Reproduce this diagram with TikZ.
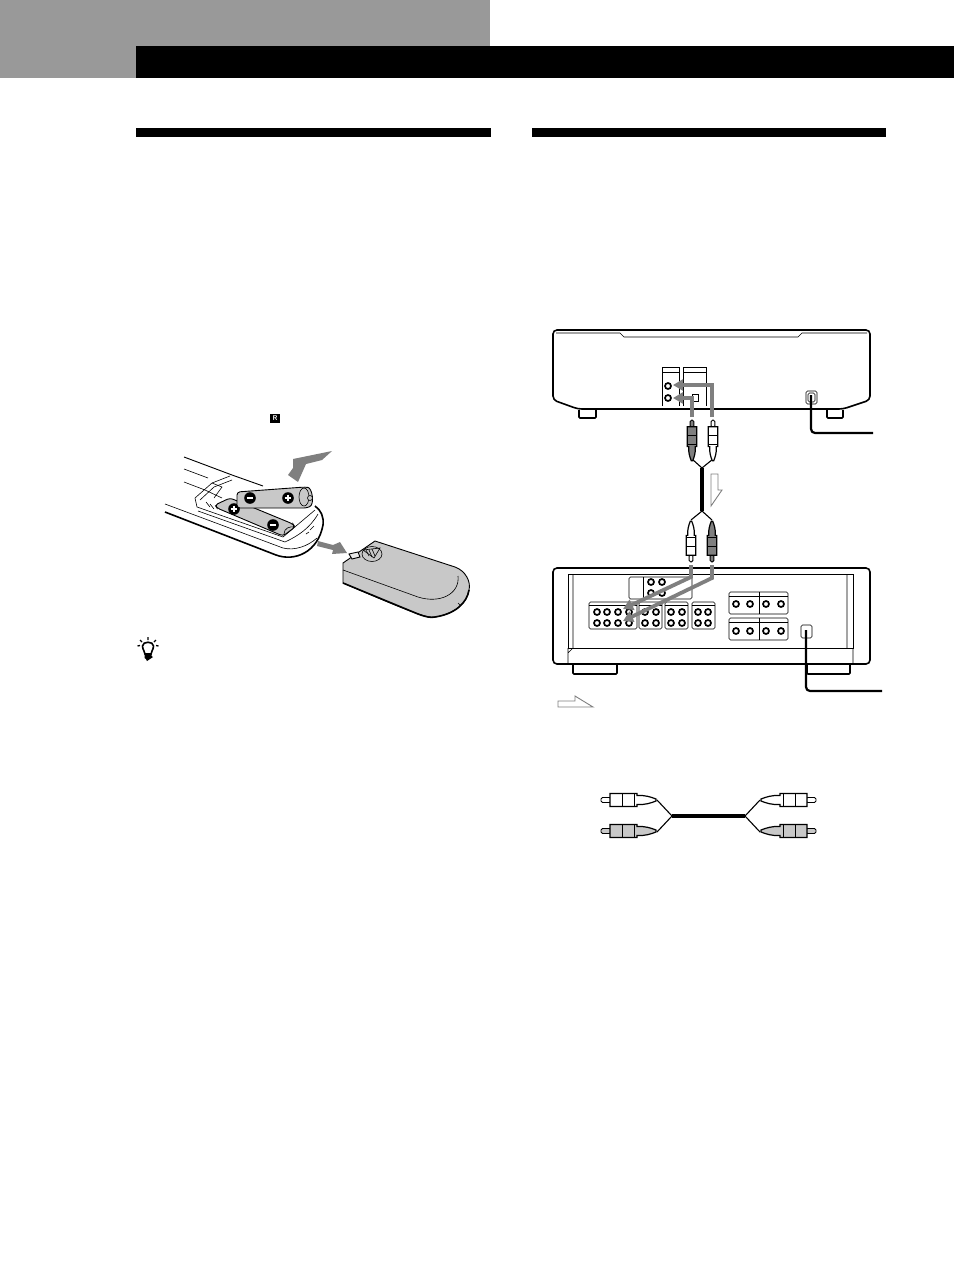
\documentclass[tikz,border=0pt]{standalone}
\usepackage{tikz}
\usetikzlibrary{positioning, arrows.meta}
\definecolor{headgray}{HTML}{999999}
\definecolor{wiregray}{HTML}{7F7F7F}
\definecolor{partgray}{HTML}{C8C8C8}
\tikzset{
    thinline/.style={line width=0.6pt, draw=black},
    midline/.style={line width=0.9pt, draw=black},
    heavyline/.style={line width=1.6pt, draw=black},
    cord/.style={line width=2.2pt, draw=black, rounded corners=4pt},
    wire/.style={line width=3.8pt, wiregray, -{Triangle[length=10pt, width=11pt]}},
    hollow/.style={line width=0.9pt, wiregray, fill=white, line join=miter},
    solidarrow/.style={fill=wiregray, draw=none},
    jackpanel/.style={thinline, fill=white, rounded corners=1.5pt},
    jack/.style={line width=1.7pt, draw=black, fill=white},
    pics/rcaplug/.style={code={
        \draw[pic actions, midline, rounded corners=1.5pt] (0,-2.5) -- (10,-2.5) -- (10,2.5) -- (0,2.5) -- cycle;
        \draw[pic actions, line width=1.2pt, draw=black] (9,-6.5) -- (36,-6.5) -- (36,-4.5) .. controls (44,-5) and (50,-3) .. (55,-1) -- (55,1) .. controls (50,3) and (44,5) .. (36,4.5) -- (36,6.5) -- (9,6.5) -- cycle;
        \draw[midline] (21,-6.5) -- (21,6.5) (33,-6.5) -- (33,6.5);
    }}
}
\newcommand{\batterysign}[3]{%
    \fill[black] (#1,#2) circle (5.8);
    \draw[white, line width=1.5pt] (#1-3.3,#2) -- (#1+3.3,#2);
    \ifnum#3=1 \draw[white, line width=1.5pt] (#1,#2-3.3) -- (#1,#2+3.3);\fi
}
\begin{document}
\begin{tikzpicture}[x=1pt, y=-1pt]
    \useasboundingbox (0,0) rectangle (954,1274);

    \fill[headgray] (0,0) rectangle (490,78);
    \fill[black] (136,46) rectangle (954,78);
    \fill[black] (136,128) rectangle (490.5,137);
    \fill[black] (532,128) rectangle (886,137);

    \node[fill=black, text=white, inner sep=0pt, minimum width=9.5pt, minimum height=9pt, font=\sffamily\bfseries\fontsize{7}{7}\selectfont] (remotemark) at (275,418.5) {R};

    \draw[midline] (184,457) -- (232,475) -- (263,486);
    \draw[thinline] (184,469) -- (208,478);
    \draw[thinline] (184,482) -- (205,490);
    \draw[thinline] (165,504) -- (283,548) .. controls (295,551) and (308,546) .. (317,538);
    \draw[heavyline] (165,512) -- (276,555) .. controls (295,562) and (318,552) .. (323,525) .. controls (324,517) and (321,510) .. (315,506);
    \draw[thinline] (197,507) -- (283,537) -- (315,510);
    \draw[thinline] (198,511) -- (285,542) .. controls (298,536) and (310,528) .. (318,514);
    \draw[thinline] (195,498) -- (197,507) (195,498) -- (212,483) -- (230,476);
    \draw[thinline] (200,500) -- (214,487) -- (232,480);
    \draw[thinline] (205,490) -- (222,498) (212,483) -- (222,487) -- (214,498);
    \draw[thinline] (206,502) -- (210,507) (210,504) -- (214,509);
    \draw[thinline] (310,530) -- (314,526) (306,534) -- (309,532);

    \draw[midline, fill=partgray, rounded corners=3pt] (217,508) -- (215,505) -- (230,498) -- (293,524) -- (295,527) -- (283,536) -- cycle;
    \draw[thinline] (284,534) .. controls (284,528) and (290,526) .. (295,527);
    \batterysign{234}{509}{1}
    \batterysign{273}{525}{0}

    \draw[midline, fill=partgray, rounded corners=3pt] (237,492) -- (305,487) .. controls (312,488) and (315,504) .. (307,508) -- (237,508) -- cycle;
    \draw[thinline, fill=partgray] (304,497) ellipse (5 and 9);
    \draw[thinline, fill=partgray] (310,498) circle (2.5);
    \batterysign{250}{498}{0}
    \batterysign{288}{498}{1}

    \fill[solidarrow] (332,451) -- (293,459) -- (293,468) -- (288,475) -- (298,482) -- (306,464) -- (322,460) -- cycle;
    \fill[solidarrow] (318,541) -- (333,545) -- (340,542) -- (347,553) -- (332,554) -- (333,550) -- (317,546) -- cycle;

    \draw[midline, fill=partgray] (343,563) -- (375,541) -- (455,567) .. controls (466,571) and (471,582) .. (469,590) .. controls (467,603) and (455,614) .. (435,617) .. controls (427,618) and (420,616) .. (343,583) -- cycle;
    \draw[heavyline] (343,583) -- (418,614) .. controls (426,617) and (431,618) .. (435,617) .. controls (455,614) and (467,603) .. (469,590);
    \draw[thinline] (343,570) -- (418,597) .. controls (440,604) and (460,594) .. (458,576);
    \draw[thinline] (461,606) -- (458,603);
    \draw[thinline, fill=partgray] (372,554) ellipse (10 and 7.5);
    \draw[thinline] (363,550) -- (380,548) -- (374,558) -- cycle;
    \draw[thinline] (366,550) -- (369,556) (369,550) -- (372,557) (372,549) -- (375,556);
    \draw[midline, fill=partgray!40] (349,554) -- (358,552) -- (360,557) -- (352,559) -- cycle;

    \draw[heavyline, fill=white, rounded corners=4pt] (553,400) -- (553,330) -- (870,330) -- (870,400) -- (843,409) -- (578,409) -- cycle;
    \draw[thinline] (556,333) -- (620,333) -- (624,337) -- (798,337) -- (802,333) -- (867,333);
    \draw[heavyline, fill=white, rounded corners=1pt] (579,410) -- (579,418) -- (596,418) -- (596,410);
    \draw[heavyline, fill=white, rounded corners=1pt] (827,410) -- (827,418) -- (843,418) -- (843,410);
    \draw[thinline] (662,406) -- (662,367) -- (679,367) -- (679,406) (662,372) -- (679,372);
    \draw[thinline] (683,406) -- (683,367) -- (706,367) -- (706,406) (683,372) -- (706,372);
    \foreach \jy in {386,398}
        \draw[jack] (668,\jy) circle (3);
    \draw[thinline] (692,394) rectangle (698,401);
    \draw[thinline, rounded corners=1.5pt] (806,391) rectangle (817,404);
    \draw[thinline, rounded corners=1.5pt] (808,393) rectangle (815,402);

    \draw[cord] (811,395) -- (811,433) -- (873,433);

    \draw[wire] (712,417) -- (712,385) -- (673,385);
    \draw[wire] (692,417) -- (692,398) -- (673,398);

    \draw[line width=1.1pt] (692,459) -- (702,468) -- (713,459);
    \draw[line width=3.2pt] (702,468) -- (702,511);
    \draw[line width=1.1pt] (691,520) -- (702,511) -- (712,520);

    \pic[fill=wiregray, rotate=-90, scale=.74] (cdplugleft) at (692,420) {rcaplug};
    \pic[fill=white, rotate=-90, scale=.74] (cdplugright) at (713,420) {rcaplug};
    \pic[fill=white, rotate=90, scale=.74] (ampplugleft) at (691,562) {rcaplug};
    \pic[fill=wiregray, rotate=90, scale=.74] (ampplugright) at (712,562) {rcaplug};

    \draw[hollow] (711,474) -- (718,474) -- (718,490) -- (722,490) -- (711,506) -- cycle;

    \draw[heavyline, fill=white, rounded corners=4pt] (553,568) -- (870,568) -- (870,664) -- (553,664) -- cycle;
    \draw[heavyline] (558,664) -- (866,664);
    \draw[thinline] (568,574) rectangle (853,648);
    \draw[thinline] (568,648) -- (568,664) (853,648) -- (853,664) (573,574) -- (573,648) (847,574) -- (847,648) (568,653) -- (573,648);
    \draw[heavyline, fill=white, rounded corners=1pt] (573,665) -- (573,674) -- (617,674) -- (617,665);
    \draw[heavyline, fill=white, rounded corners=1pt] (807,665) -- (807,674) -- (850,674) -- (850,665);

    \draw[jackpanel] (629,577) rectangle (692,599);
    \draw[thinline] (643,577) -- (643,599);
    \foreach \jx in {651,662}
        \foreach \jy in {582,593}
            \draw[jack] (\jx,\jy) circle (3);

    \foreach \pleft/\pright in {589/637, 639/662, 665/688, 692/715} {
        \draw[jackpanel] (\pleft,602) rectangle (\pright,629);
        \draw[thinline] (\pleft,605) -- (\pright,605);
    }
    \foreach \jx in {597,607,618,629,645,656,671,682,698,708}
        \foreach \jy in {612,623}
            \draw[jack] (\jx,\jy) circle (3);

    \foreach \ptop/\jy in {592/604, 618/631} {
        \draw[jackpanel] (729,\ptop) rectangle (788,\ptop+22);
        \draw[thinline] (729,\ptop+4) -- (788,\ptop+4) (759,\ptop) -- (759,\ptop+22);
        \foreach \jx in {736,750,766,781}
            \draw[jack] (\jx,\jy) circle (3);
    }
    \draw[jackpanel] (801,625) rectangle (812,638);
    \draw[cord] (806,630) -- (806,691) -- (882,691);

    \draw[wire] (691,565) -- (691,577) -- (623,609);
    \draw[wire] (712,565) -- (712,578) -- (623,621);

    \draw[hollow] (558,701) -- (575,701) -- (575,696) -- (593,707) -- (558,707) -- cycle;

    \draw[line width=3.4pt] (672,816) -- (745,816);
    \draw[line width=1.1pt] (657,800) -- (672,816) -- (657,832);
    \draw[line width=1.1pt] (760,800) -- (745,816) -- (760,832);
    \pic[fill=white, scale=1] (loosewl) at (601,800) {rcaplug};
    \pic[fill=partgray, scale=1] (loosegl) at (601,831) {rcaplug};
    \pic[fill=white, rotate=180, scale=1] (loosewr) at (816,800) {rcaplug};
    \pic[fill=partgray, rotate=180, scale=1] (loosegr) at (816,831) {rcaplug};

    \draw[line width=1.6pt, fill=white] (142.5,646) .. controls (142.5,641) and (153.5,641) .. (153.5,646) .. controls (153.5,650) and (151,651) .. (151,654) -- (145,654) .. controls (145,651) and (142.5,650) .. (142.5,646) -- cycle;
    \fill[black] (144.5,654) -- (151.5,654) -- (151.5,656) -- (153,657) -- (147,661) -- (146,659) -- (144.5,658) -- cycle;
    \draw[line width=1.3pt] (148,637) -- (148,640) (140,640) -- (142,642) (156,640) -- (154,642) (137.5,646) -- (140,645.5) (158.5,646) -- (156,645.5);
\end{tikzpicture}
\end{document}
